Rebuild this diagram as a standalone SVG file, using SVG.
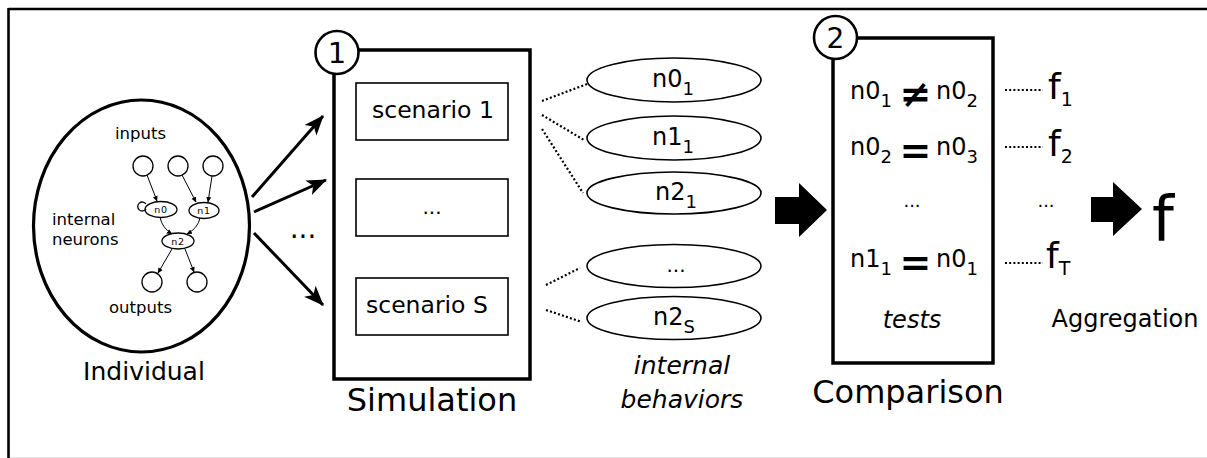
<svg xmlns="http://www.w3.org/2000/svg" width="1207" height="458" viewBox="0 0 1207 458">
<defs>
<style>
text{font-family:"DejaVu Sans","Liberation Sans",sans-serif;fill:#000}
.it{font-style:italic}
.thin{fill:none;stroke:#000;stroke-width:1.3}
.box{fill:#fff;stroke:#000;stroke-width:3.5}
.sbox{fill:#fff;stroke:#000;stroke-width:1.6}
.ell{fill:#fff;stroke:#000;stroke-width:1.6}
.arr{fill:none;stroke:#000;stroke-width:3;marker-end:url(#ah)}
.sarr{fill:none;stroke:#000;stroke-width:1;marker-end:url(#sah)}
.dot{fill:none;stroke:#000;stroke-width:2.2;stroke-dasharray:2 2.2}
.blk{fill:#000}
.eq{font-size:38px;font-weight:bold}
</style>
<marker id="ah" markerUnits="userSpaceOnUse" markerWidth="22" markerHeight="18" viewBox="0 0 22 18" refX="19" refY="9" orient="auto">
<path d="M0,1 L20,9 L0,17 L5,9 z" fill="#000"/>
</marker>
<marker id="sah" markerUnits="userSpaceOnUse" markerWidth="6" markerHeight="6" viewBox="0 0 6 6" refX="5" refY="3" orient="auto">
<path d="M0,0.5 L5.5,3 L0,5.5 z" fill="#000"/>
</marker>
</defs>
<rect x="0" y="0" width="1207" height="458" fill="#fff"/>
<g id="frame">
<line x1="8.5" y1="9" x2="1207" y2="9" stroke="#000" stroke-width="2.6"/>
<line x1="8.5" y1="8" x2="8.5" y2="458" stroke="#000" stroke-width="2.6"/>
<line x1="10" y1="457.5" x2="1207" y2="457.5" stroke="#e4e4e4" stroke-width="1"/>
</g>
<g id="connectors">
<line class="arr" x1="252" y1="197" x2="323" y2="116"/>
<line class="arr" x1="254" y1="212" x2="326" y2="180"/>
<line class="arr" x1="254" y1="233" x2="323" y2="305"/>
<line class="dot" x1="542" y1="101" x2="587" y2="84"/>
<line class="dot" x1="542" y1="115" x2="584" y2="140"/>
<line class="dot" x1="542" y1="129" x2="583" y2="193"/>
<line class="dot" x1="546" y1="285" x2="580" y2="268"/>
<line class="dot" x1="546" y1="310" x2="582" y2="322"/>
<line class="dot" x1="1005" y1="90" x2="1043" y2="90"/>
<line class="dot" x1="1005" y1="147" x2="1043" y2="147"/>
<line class="dot" x1="1005" y1="263" x2="1043" y2="263"/>
<polygon class="blk" points="775,197 799,197 799,183 827,210 799,237 799,224 775,224"/>
<polygon class="blk" points="1091,197 1113,197 1113,182 1142,209 1113,236 1113,222 1091,222"/>
<text x="303" y="238" font-size="28" text-anchor="middle">...</text>
</g>
<g id="individual">
<ellipse cx="141.5" cy="226" rx="108" ry="126" fill="#fff" stroke="#000" stroke-width="3.2"/>
<text x="140.5" y="139" font-size="16.5" text-anchor="middle">inputs</text>
<text x="52" y="225" font-size="16.5">internal</text>
<text x="52" y="245" font-size="16.5">neurons</text>
<text x="140.5" y="313" font-size="16.5" text-anchor="middle">outputs</text>
<text x="144" y="380" font-size="25" text-anchor="middle">Individual</text>
<circle class="thin" cx="143" cy="166" r="10"/>
<circle class="thin" cx="178" cy="166" r="10"/>
<circle class="thin" cx="213" cy="166" r="10"/>
<circle class="thin" cx="152" cy="282" r="10"/>
<circle class="thin" cx="197" cy="282" r="10"/>
<line class="sarr" x1="147" y1="175" x2="157" y2="201"/>
<line class="sarr" x1="182" y1="175" x2="196" y2="202"/>
<line class="sarr" x1="212" y1="176" x2="208" y2="202"/>
<path class="sarr" d="M160,217 Q162,228 172,234"/>
<path class="sarr" d="M200,218 Q198,228 187,234"/>
<line class="sarr" x1="172" y1="249" x2="158" y2="273"/>
<line class="sarr" x1="185" y1="249" x2="194" y2="272"/>
<path class="thin" d="M146,209 A4.5,4.5 0 1 1 146,204" stroke-width="1"/>
<ellipse class="thin" cx="161" cy="209.5" rx="16" ry="8" fill="#fff"/>
<ellipse class="thin" cx="204" cy="210.5" rx="15" ry="8" fill="#fff"/>
<ellipse class="thin" cx="178" cy="241" rx="16" ry="8" fill="#fff"/>
<text x="161" y="213" font-size="9.5" text-anchor="middle" letter-spacing="0.6">n0</text>
<text x="204" y="214" font-size="9.5" text-anchor="middle" letter-spacing="0.6">n1</text>
<text x="178" y="245" font-size="9.5" text-anchor="middle" letter-spacing="0.6">n2</text>
</g>
<g id="simulation">
<rect class="box" x="334" y="50" width="196" height="329"/>
<circle cx="337" cy="52.5" r="21.5" fill="#fff" stroke="#000" stroke-width="2.6"/>
<text x="337" y="63" font-size="29" text-anchor="middle">1</text>
<rect class="sbox" x="356" y="83" width="152" height="57"/>
<rect class="sbox" x="356" y="179" width="152" height="57"/>
<rect class="sbox" x="356" y="278" width="152" height="57"/>
<text x="372" y="118" font-size="23.5">scenario 1</text>
<text x="432" y="214" font-size="20" text-anchor="middle">...</text>
<text x="366" y="313" font-size="23.5">scenario S</text>
<text x="432" y="411" font-size="32" text-anchor="middle">Simulation</text>
</g>
<g id="behaviors">
<ellipse class="ell" cx="674" cy="80" rx="87" ry="22"/>
<ellipse class="ell" cx="674" cy="138" rx="87" ry="22"/>
<ellipse class="ell" cx="674" cy="193" rx="87" ry="21"/>
<ellipse class="ell" cx="674" cy="266" rx="87" ry="21.5"/>
<ellipse class="ell" cx="674" cy="318" rx="87" ry="21.5"/>
<text x="652" y="87" font-size="24">n0<tspan font-size="18" dy="8">1</tspan></text>
<text x="652" y="145" font-size="24">n1<tspan font-size="18" dy="8">1</tspan></text>
<text x="655" y="200" font-size="24">n2<tspan font-size="18" dy="8">1</tspan></text>
<text x="676" y="272" font-size="20" text-anchor="middle">...</text>
<text x="653" y="325" font-size="24">n2<tspan font-size="18" dy="8">S</tspan></text>
<text class="it" x="682" y="374" font-size="25" text-anchor="middle">internal</text>
<text class="it" x="682" y="408" font-size="25" text-anchor="middle">behaviors</text>
</g>
<g id="comparison">
<rect class="box" x="833" y="38" width="160" height="325"/>
<circle cx="835.5" cy="37.5" r="21.5" fill="#fff" stroke="#000" stroke-width="2.6"/>
<text x="835.5" y="48" font-size="28" text-anchor="middle">2</text>
<text x="850" y="99" font-size="24">n0<tspan font-size="18" dy="8">1</tspan></text>
<text class="eq" x="915.5" y="107" text-anchor="middle">≠</text>
<text x="936" y="99" font-size="24">n0<tspan font-size="18" dy="8">2</tspan></text>
<text x="850" y="155" font-size="24">n0<tspan font-size="18" dy="8">2</tspan></text>
<text class="eq" x="915.5" y="163" text-anchor="middle">=</text>
<text x="936" y="155" font-size="24">n0<tspan font-size="18" dy="8">3</tspan></text>
<text x="912" y="207" font-size="18" text-anchor="middle">...</text>
<text x="850" y="267" font-size="24">n1<tspan font-size="18" dy="8">1</tspan></text>
<text class="eq" x="915.5" y="275" text-anchor="middle">=</text>
<text x="936" y="267" font-size="24">n0<tspan font-size="18" dy="8">1</tspan></text>
<text class="it" x="912" y="328" font-size="24" text-anchor="middle">tests</text>
<text x="908" y="403" font-size="32" text-anchor="middle">Comparison</text>
</g>
<g id="aggregation">
<text x="1048" y="99" font-size="36">f<tspan font-size="19" dy="7">1</tspan></text>
<text x="1048" y="156" font-size="36">f<tspan font-size="19" dy="7">2</tspan></text>
<text x="1046" y="207" font-size="18" text-anchor="middle">...</text>
<text x="1046" y="268" font-size="36">f<tspan font-size="19" dy="7">T</tspan></text>
<text x="1125" y="327" font-size="24" text-anchor="middle">Aggregation</text>
<text x="1152" y="240" font-size="62">f</text>
</g>
</svg>
